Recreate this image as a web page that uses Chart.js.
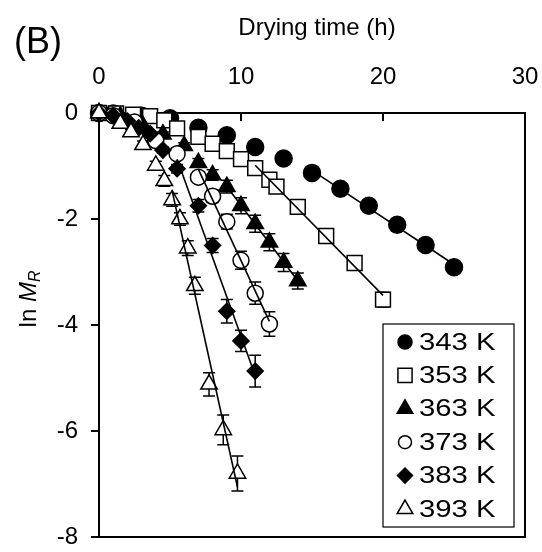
<!DOCTYPE html>
<html>
<head>
<meta charset="utf-8">
<script src="https://cdn.jsdelivr.net/npm/chart.js@4.4.0/dist/chart.umd.min.js"></script>
<style>
  html, body { margin: 0; padding: 0; background: #fff; }
</style>
</head>
<body>
<canvas id="c" width="542" height="552"></canvas>
<script>
const FONT = '"Liberation Sans", Arial, sans-serif';

// Series labels (drying temperature)
const seriesLabels = ['343 K', '353 K', '363 K', '373 K', '383 K', '393 K'];

// Drying time (h), ln MR and its error for each temperature
const t343 = [0, 1, 3, 5, 7, 9, 11, 13, 15, 17, 19, 21, 23, 25];
const ln343 = [0, -0.01, -0.05, -0.1, -0.28, -0.42, -0.64, -0.86, -1.13, -1.43, -1.75, -2.11, -2.49, -2.91];
const err343 = [0, 0.02, 0.02, 0.03, 0.03, 0.04, 0.04, 0.05, 0.05, 0.06, 0.07, 0.12, 0.09, 0.12];

const t353 = [0, 1.2, 2.4, 3.6, 4.6, 5.5, 7, 8, 9, 10, 11, 12, 12.5, 14, 16, 18, 20];
const ln353 = [0, -0.01, -0.03, -0.06, -0.14, -0.29, -0.45, -0.58, -0.72, -0.87, -1.04, -1.26, -1.39, -1.77, -2.32, -2.83, -3.52];
const err353 = [0, 0.01, 0.02, 0.02, 0.03, 0.03, 0.04, 0.04, 0.05, 0.05, 0.05, 0.06, 0.06, 0.07, 0.08, 0.1, 0.14];

const t363 = [0, 1.5, 3, 4.5, 6, 7, 8, 9, 10, 11, 12, 13, 14];
const ln363 = [0, -0.06, -0.2, -0.4, -0.62, -0.94, -1.17, -1.39, -1.75, -2.09, -2.44, -2.82, -3.17];
const err363 = [0, 0.02, 0.03, 0.04, 0.06, 0.08, 0.1, 0.12, 0.15, 0.16, 0.16, 0.17, 0.15];

const t373 = [0, 1, 2.5, 4, 5.5, 7, 8, 9, 10, 11, 12];
const ln373 = [0, -0.05, -0.17, -0.52, -0.77, -1.21, -1.57, -2.05, -2.78, -3.4, -3.98];
const err373 = [0, 0.02, 0.04, 0.06, 0.08, 0.1, 0.12, 0.14, 0.17, 0.21, 0.23];

const t383 = [0, 1, 2, 2.8, 3.6, 4.5, 5.5, 7, 8, 9, 10, 11];
const ln383 = [0, -0.05, -0.15, -0.28, -0.39, -0.7, -1.05, -1.75, -2.5, -3.74, -4.3, -4.87];
const err383 = [0, 0.02, 0.03, 0.04, 0.05, 0.06, 0.08, 0.12, 0.13, 0.22, 0.2, 0.3];

const t393 = [0, 1.5, 2.25, 3.1, 4.0, 4.6, 5.15, 5.7, 6.25, 6.75, 7.75, 8.75, 9.75];
const ln393 = [0, -0.2, -0.36, -0.6, -0.99, -1.28, -1.64, -2.0, -2.55, -3.26, -5.12, -5.98, -6.8];
const err393 = [0, 0.04, 0.05, 0.07, 0.08, 0.1, 0.12, 0.12, 0.14, 0.16, 0.22, 0.28, 0.33];

// First time point included in each linear (falling-rate) fit
const fitFrom = [15, 11, 9, 7, 5.5, 5.15];

// Axis ticks
const xTicks = [0, 10, 20, 30];
const yTicks = [0, -2, -4, -6, -8];

const times = [t343, t353, t363, t373, t383, t393];
const lnValues = [ln343, ln353, ln363, ln373, ln383, ln393];
const errors = [err343, err353, err363, err373, err383, err393];

// Marker appearance per temperature
const markers = [
  { style: 'circle',   fill: '#000', r: 8.5,  lr: 7 },
  { style: 'rect',     fill: '#fff', r: 10.5, lr: 10 },
  { style: 'triangle', fill: '#000', r: 9.5,  lr: 9 },
  { style: 'circle',   fill: '#fff', r: 8,    lr: 6.5 },
  { style: 'rectRot',  fill: '#000', r: 8,    lr: 7.5 },
  { style: 'triangle', fill: '#fff', r: 9.5,  lr: 9 }
];

// Least-squares line through the points from fitFrom onward
function fitLine(ts, ys, from) {
  const xs = [], vs = [];
  ts.forEach((t, i) => { if (t >= from - 1e-9) { xs.push(t); vs.push(ys[i]); } });
  const n = xs.length;
  const mx = xs.reduce((a, b) => a + b, 0) / n;
  const my = vs.reduce((a, b) => a + b, 0) / n;
  let sxy = 0, sxx = 0;
  for (let i = 0; i < n; i++) { sxy += (xs[i] - mx) * (vs[i] - my); sxx += (xs[i] - mx) ** 2; }
  const k = sxy / sxx, b = my - k * mx;
  const x0 = xs[0], x1 = xs[n - 1];
  return [{ x: x0, y: k * x0 + b }, { x: x1, y: k * x1 + b }];
}

const datasets = [];
seriesLabels.forEach((label, s) => {
  const m = markers[s];
  datasets.push({
    label,
    data: times[s].map((t, i) => ({ x: t, y: lnValues[s][i] })),
    showLine: false,
    pointStyle: m.style,
    pointRadius: m.r,
    pointBackgroundColor: m.fill,
    pointBorderColor: '#000',
    pointBorderWidth: 1.5,
    order: 10 - s,
    clip: false,
    errors: errors[s]
  });
});
seriesLabels.forEach((label, s) => {
  datasets.push({
    label: label + ' fit',
    data: fitLine(times[s], lnValues[s], fitFrom[s]),
    showLine: true,
    borderColor: '#000',
    borderWidth: 1.6,
    pointRadius: 0,
    order: 0,
    clip: false
  });
});

const decorations = {
  id: 'decorations',
  beforeDatasetsDraw(chart) {
    const { ctx, chartArea: a, scales: { x, y } } = chart;
    ctx.save();
    ctx.strokeStyle = '#000';
    ctx.lineWidth = 2;
    ctx.strokeRect(a.left, a.top, a.right - a.left, a.bottom - a.top);
    // inward tick marks on the top axis
    xTicks.forEach(v => {
      const px = x.getPixelForValue(v);
      ctx.beginPath(); ctx.moveTo(px, a.top); ctx.lineTo(px, a.top + 8); ctx.stroke();
    });
    // error bars
    ctx.lineWidth = 1.5;
    chart.data.datasets.forEach(ds => {
      if (!ds.errors) return;
      ds.data.forEach((p, i) => {
        const e = ds.errors[i];
        if (!e) return;
        const px = x.getPixelForValue(p.x);
        const pTop = y.getPixelForValue(p.y + e);
        const pBot = y.getPixelForValue(p.y - e);
        ctx.beginPath();
        ctx.moveTo(px, pTop); ctx.lineTo(px, pBot);
        ctx.moveTo(px - 6, pTop); ctx.lineTo(px + 6, pTop);
        ctx.moveTo(px - 6, pBot); ctx.lineTo(px + 6, pBot);
        ctx.stroke();
      });
    });
    ctx.restore();
  },
  afterDraw(chart) {
    const { ctx } = chart;
    ctx.save();
    ctx.fillStyle = '#000';
    ctx.textBaseline = 'middle';

    // panel label
    ctx.font = '36px ' + FONT;
    ctx.textAlign = 'left';
    ctx.fillText('(B)', 14, 43);

    // x-axis title
    ctx.font = '24px ' + FONT;
    ctx.textAlign = 'center';
    ctx.fillText('Drying time (h)', 317, 28);

    // y-axis title: ln M_R
    ctx.save();
    ctx.translate(29, 299);
    ctx.rotate(-Math.PI / 2);
    const f1 = '24px ' + FONT, f2 = 'italic 24px ' + FONT, f3 = 'italic 16px ' + FONT;
    ctx.font = f1; const w1 = ctx.measureText('ln ').width;
    ctx.font = f2; const w2 = ctx.measureText('M').width;
    ctx.font = f3; const w3 = ctx.measureText('R').width;
    let cx = -(w1 + w2 + w3) / 2;
    ctx.textAlign = 'left';
    ctx.font = f1; ctx.fillText('ln ', cx, 0); cx += w1;
    ctx.font = f2; ctx.fillText('M', cx, 0); cx += w2;
    ctx.font = f3; ctx.fillText('R', cx, 7);
    ctx.restore();

    // legend box
    const bx = 383, by = 324, bw = 131, bh = 203;
    ctx.lineWidth = 1.2;
    ctx.strokeStyle = '#000';
    ctx.fillStyle = '#fff';
    ctx.fillRect(bx, by, bw, bh);
    ctx.strokeRect(bx, by, bw, bh);
    const rowH = 33.4;
    seriesLabels.forEach((label, s) => {
      const m = markers[s];
      const cy = by + 18 + s * rowH;
      ctx.fillStyle = m.fill;
      ctx.strokeStyle = '#000';
      ctx.lineWidth = 1.5;
      Chart.helpers.drawPoint(ctx, { pointStyle: m.style, radius: m.lr, rotation: 0, borderWidth: 1.5 }, 405, cy);
      ctx.fillStyle = '#000';
      ctx.font = '24px ' + FONT;
      ctx.textAlign = 'left';
      ctx.save();
      ctx.translate(419, cy + 1);
      ctx.scale(1.22, 1);
      ctx.fillText(label, 0, 0);
      ctx.restore();
    });
    ctx.restore();
  }
};

new Chart(document.getElementById('c'), {
  type: 'scatter',
  data: { datasets },
  options: {
    responsive: false,
    animation: false,
    devicePixelRatio: 1,
    layout: { padding: { left: 0, right: 17, top: 0, bottom: 15 } },
    plugins: { legend: { display: false }, tooltip: { enabled: false } },
    scales: {
      x: {
        type: 'linear', position: 'top', min: 0, max: 30,
        afterBuildTicks: s => { s.ticks = xTicks.map(v => ({ value: v })); },
        afterFit: s => { s.height = 113; s.paddingLeft = 0; s.paddingRight = 0; },
        grid: { display: true, drawOnChartArea: false, drawTicks: false },
        border: { display: false },
        ticks: { color: '#000', font: { family: FONT, size: 24 }, padding: 21, maxRotation: 0 },
        title: { display: false }
      },
      y: {
        type: 'linear', min: -8, max: 0,
        afterBuildTicks: s => { s.ticks = yTicks.map(v => ({ value: v })); },
        afterFit: s => { s.width = 99; s.paddingTop = 0; s.paddingBottom = 0; },
        grid: { display: true, drawOnChartArea: false, drawTicks: true, tickLength: 8, color: '#000', lineWidth: 2 },
        border: { display: false },
        ticks: { color: '#000', font: { family: FONT, size: 24 }, padding: 13 }
      }
    }
  },
  plugins: [decorations]
});
</script>
</body>
</html>
